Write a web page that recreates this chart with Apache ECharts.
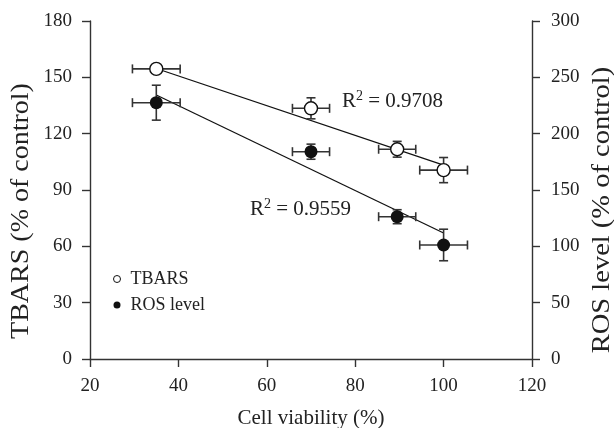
<!DOCTYPE html>
<html>
<head>
<meta charset="utf-8">
<script src="https://cdn.jsdelivr.net/npm/echarts@6/dist/echarts.min.js"></script>
<style>html,body{margin:0;padding:0;background:#fff}#c{width:614px;height:428px}</style>
</head>
<body>
<div id="c"></div>
<script>
const viability = [35, 70, 89.5, 100];
const viabilityErr = [5.4, 4.2, 4.2, 5.4];
const tbars = [154.5, 133.5, 111.7, 100.6];
const tbarsErr = [2, 5.6, 4.2, 6.7];
const ros = [227.5, 184, 126.3, 101.2];
const rosErr = [15.5, 6.7, 6.2, 14];
const fitX = [35, 100];
const tbarsFit = [154.7, 103.3];
const rosFit = [234.3, 111.8];
const xTicks = [20, 40, 60, 80, 100, 120];
const tbarsTicks = [0, 30, 60, 90, 120, 150, 180];
const rosTicks = [0, 50, 100, 150, 200, 250, 300];

const FONT = '"Liberation Serif", "Times New Roman", serif';
const TXT = '#222';
const LINE = '#333';

function errData(ys, es) {
  return viability.map((x, i) => [x, ys[i], viabilityErr[i], es[i]]);
}
function renderErr(params, api) {
  const x = api.value(0), y = api.value(1), ex = api.value(2), ey = api.value(3);
  const l = api.coord([x - ex, y]), r = api.coord([x + ex, y]);
  const t = api.coord([x, y + ey]), b = api.coord([x, y - ey]);
  const cap = 4.5;
  const st = {stroke: LINE, lineWidth: 1.6};
  const mk = (x1, y1, x2, y2) => ({type: 'line', shape: {x1, y1, x2, y2}, style: st});
  return {type: 'group', children: [
    mk(l[0], l[1], r[0], r[1]),
    mk(l[0], l[1] - cap, l[0], l[1] + cap),
    mk(r[0], r[1] - cap, r[0], r[1] + cap),
    mk(t[0], t[1], b[0], b[1]),
    mk(t[0] - cap, t[1], t[0] + cap, t[1]),
    mk(b[0] - cap, b[1], b[0] + cap, b[1])
  ]};
}

const axisCommon = {
  type: 'value',
  axisLine: {show: true, onZero: false, lineStyle: {color: LINE, width: 1.4}},
  axisTick: {show: true, inside: false, length: 8, lineStyle: {color: LINE, width: 1.4}},
  splitLine: {show: false},
  axisLabel: {fontFamily: FONT, fontSize: 19, color: TXT}
};

const chart = echarts.init(document.getElementById('c'), null, {renderer: 'canvas'});
chart.setOption({
  animation: false,
  backgroundColor: '#fff',
  grid: {left: 90, right: 82, top: 21, bottom: 69, containLabel: false, outerBoundsMode: 'none'},
  xAxis: Object.assign({}, axisCommon, {
    min: xTicks[0], max: xTicks[xTicks.length - 1], interval: xTicks[1] - xTicks[0],
    name: 'Cell viability (%)', nameLocation: 'middle', nameGap: 49,
    nameTextStyle: {fontFamily: FONT, fontSize: 21, color: TXT},
    axisLabel: Object.assign({}, axisCommon.axisLabel, {margin: 18})
  }),
  yAxis: [
    Object.assign({}, axisCommon, {
      position: 'left',
      min: tbarsTicks[0], max: tbarsTicks[tbarsTicks.length - 1], interval: tbarsTicks[1] - tbarsTicks[0],
      axisLabel: Object.assign({}, axisCommon.axisLabel, {margin: 18})
    }),
    Object.assign({}, axisCommon, {
      position: 'right',
      min: rosTicks[0], max: rosTicks[rosTicks.length - 1], interval: rosTicks[1] - rosTicks[0],
      axisLabel: Object.assign({}, axisCommon.axisLabel, {margin: 19})
    })
  ],
  legend: {
    orient: 'vertical', left: 108, top: 265, itemGap: 8,
    itemWidth: 7, itemHeight: 7,
    textStyle: {fontFamily: FONT, fontSize: 18, color: TXT, padding: [0, 0, 0, 5]},
    data: [
      {name: 'TBARS', icon: 'circle', itemStyle: {color: '#fff', borderColor: '#111', borderWidth: 1, opacity: 1}},
      {name: 'ROS level', icon: 'circle', itemStyle: {color: '#111', opacity: 1}}
    ]
  },
  series: [
    {type: 'line', yAxisIndex: 0, data: fitX.map((x, i) => [x, tbarsFit[i]]), symbol: 'none',
     lineStyle: {color: '#111', width: 1.3}, z: 2, silent: true},
    {type: 'line', yAxisIndex: 1, data: fitX.map((x, i) => [x, rosFit[i]]), symbol: 'none',
     lineStyle: {color: '#111', width: 1.3}, z: 2, silent: true},
    {type: 'custom', yAxisIndex: 0, renderItem: renderErr, data: errData(tbars, tbarsErr), z: 3, silent: true},
    {type: 'custom', yAxisIndex: 1, renderItem: renderErr, data: errData(ros, rosErr), z: 3, silent: true},
    {name: 'TBARS', type: 'scatter', yAxisIndex: 0, data: viability.map((x, i) => [x, tbars[i]]),
     symbol: 'circle', symbolSize: 13, itemStyle: {color: '#fff', borderColor: '#111', borderWidth: 1.4, opacity: 1}, z: 5},
    {name: 'ROS level', type: 'scatter', yAxisIndex: 1, data: viability.map((x, i) => [x, ros[i]]),
     symbol: 'circle', symbolSize: 13, itemStyle: {color: '#111', opacity: 1}, z: 5}
  ],
  graphic: [
    {type: 'text', x: 21, y: 211, rotation: Math.PI / 2, scaleX: 1.12, z: 10,
     style: {text: 'TBARS (% of control)', fill: TXT, font: '25px ' + FONT, align: 'center', verticalAlign: 'middle'}},
    {type: 'text', x: 602, y: 210, rotation: Math.PI / 2, scaleX: 1.14, z: 10,
     style: {text: 'ROS level (% of control)', fill: TXT, font: '25px ' + FONT, align: 'center', verticalAlign: 'middle'}},
    {type: 'text', left: 342, top: 89, z: 10,
     style: {text: 'R{s|2} = 0.9708', fill: TXT, font: '21px ' + FONT,
             rich: {s: {fontSize: 14, fontFamily: FONT, fill: TXT, verticalAlign: 'top', padding: [0, 0, 10, 0]}}}},
    {type: 'text', left: 250, top: 197, z: 10,
     style: {text: 'R{s|2} = 0.9559', fill: TXT, font: '21px ' + FONT,
             rich: {s: {fontSize: 14, fontFamily: FONT, fill: TXT, verticalAlign: 'top', padding: [0, 0, 10, 0]}}}}
  ]
});
</script>
</body>
</html>
